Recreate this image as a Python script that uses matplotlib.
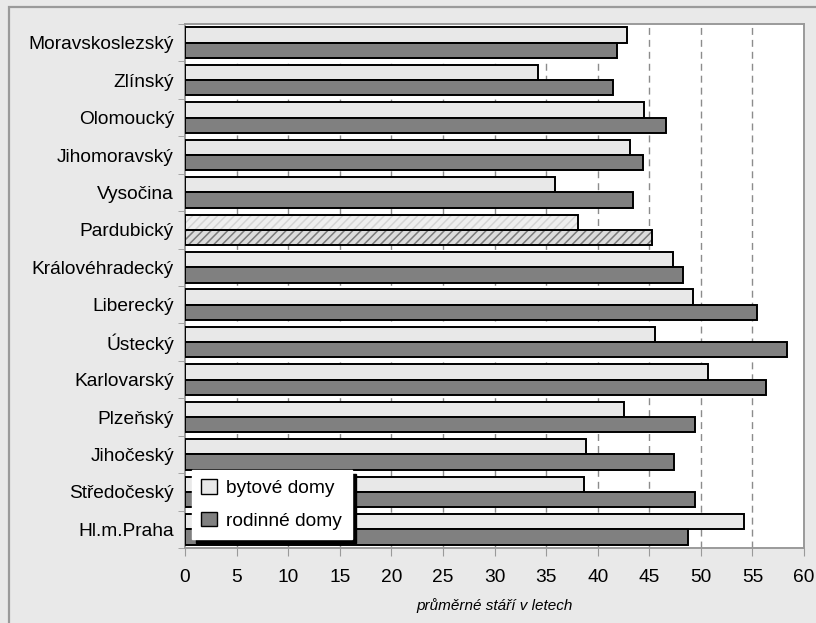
import matplotlib.pyplot as plt
from matplotlib.patches import Rectangle

# Average age of buildings by region (years)
regions = ["Moravskoslezský", "Zlínský", "Olomoucký", "Jihomoravský", "Vysočina",
           "Pardubický", "Královéhradecký", "Liberecký", "Ústecký", "Karlovarský",
           "Plzeňský", "Jihočeský", "Středočeský", "Hl.m.Praha"]
bytove = [42.8, 34.2, 44.5, 43.1, 35.9, 38.1, 47.3, 49.2, 45.6, 50.7, 42.6, 38.9, 38.7, 54.2]
rodinne = [41.9, 41.5, 46.6, 44.4, 43.4, 45.3, 48.3, 55.4, 58.4, 56.3, 49.4, 47.4, 49.4, 48.8]
highlight = "Pardubický"

LIGHT = "#e8e8e8"
DARK = "#808080"
BG = "#e9e9e9"
BAR_H = 0.41

plt.rcParams["font.family"] = ["Liberation Sans", "DejaVu Sans"]
plt.rcParams["hatch.linewidth"] = 1.1

fig = plt.figure(figsize=(8.16, 6.23), dpi=100, facecolor=BG)
fig.patches.append(Rectangle((9 / 816, -0.1), 1.2, 1 - 7 / 623 + 0.1,
                             transform=fig.transFigure, facecolor=BG,
                             edgecolor="#9a9a9a", lw=1.6, zorder=-10))
ax = fig.add_axes([185 / 816, 1 - 548 / 623, 619 / 816, 524 / 623])
ax.set_facecolor("white")

ypos = list(range(len(regions)))
for i, name in enumerate(regions):
    y1 = i - BAR_H / 2
    y2 = i + BAR_H / 2
    if name == highlight:
        ax.barh(y1, bytove[i], height=BAR_H, color="#efefef", edgecolor="#d4d4d4",
                hatch="////", lw=0, zorder=3)
        ax.barh(y2, rodinne[i], height=BAR_H, color="#dcdcdc", edgecolor="#7a7a7a",
                hatch="////", lw=0, zorder=3)
        ax.barh(y1, bytove[i], height=BAR_H, fill=False, edgecolor="black", lw=1.4, zorder=4)
        ax.barh(y2, rodinne[i], height=BAR_H, fill=False, edgecolor="black", lw=1.4, zorder=4)
    else:
        ax.barh(y1, bytove[i], height=BAR_H, color=LIGHT, edgecolor="black", lw=1.4, zorder=3)
        ax.barh(y2, rodinne[i], height=BAR_H, color=DARK, edgecolor="black", lw=1.4, zorder=3)

# legend handles
hb = ax.barh([0], [0], color=LIGHT, edgecolor="black", lw=1.0, label="bytové domy")
hr = ax.barh([0], [0], color=DARK, edgecolor="black", lw=1.0, label="rodinné domy")

ax.set_xlim(0, 60)
ax.set_ylim(len(regions) - 0.5, -0.5)
ax.set_xticks(range(0, 61, 5))
ax.set_yticks(ypos)
ax.set_yticklabels(regions)
ax.set_yticks([i - 0.5 for i in range(len(regions) + 1)], minor=True)
ax.tick_params(axis="y", which="major", length=0, pad=8, labelsize=13.8)
ax.tick_params(axis="y", which="minor", length=5, color="#9a9a9a", direction="out")
ax.tick_params(axis="x", length=6, color="#9a9a9a", direction="out", labelsize=13.8, pad=9)

for x in range(5, 60, 5):
    ax.axvline(x, color="#8c8c8c", lw=1.0, linestyle=(0, (5, 3.6)), zorder=1)

for s in ax.spines.values():
    s.set_color("#9a9a9a")
    s.set_linewidth(1.4)

ax.set_xlabel("průměrné stáří v letech", fontsize=11, style="italic", labelpad=9)

leg = ax.legend(handles=[hb, hr], loc="lower left", bbox_to_anchor=(0.011, 0.017),
                borderaxespad=0, fancybox=False, framealpha=1, fontsize=13.8,
                handlelength=0.8, handleheight=0.8, handletextpad=0.5,
                labelspacing=0.75, borderpad=0.5,
                shadow={"ox": 3, "oy": -3, "facecolor": "black",
                        "edgecolor": "black", "alpha": 1})
leg.get_frame().set_edgecolor("white")
leg.set_zorder(10)

fig.savefig("out.png", dpi=100, facecolor=BG)
